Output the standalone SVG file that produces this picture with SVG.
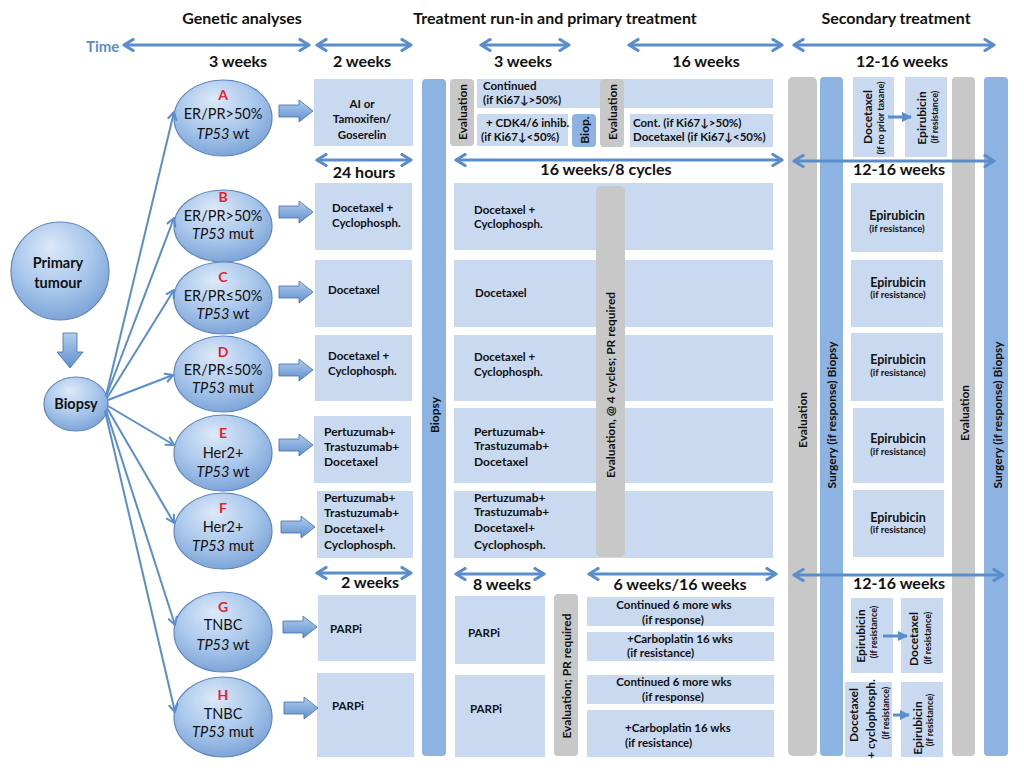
<svg xmlns="http://www.w3.org/2000/svg" width="1024" height="771" viewBox="0 0 1024 771">
<defs>
<style>
.h{font:bold 16px Lato,"Liberation Sans",sans-serif;fill:#111;text-anchor:middle}
.wk{font:bold 16px Lato,"Liberation Sans",sans-serif;fill:#111;text-anchor:middle}
.time{font:bold 15px Lato,"Liberation Sans",sans-serif;fill:#5b8fd0}
.box{fill:#c9daf0}
.bar{fill:#8db3e2}
.gray{fill:#c8c8c8}
.t{font:bold 11.5px Lato,"Liberation Sans",sans-serif;fill:#111}
.tc{font:bold 11.5px Lato,"Liberation Sans",sans-serif;fill:#111;text-anchor:middle}
.bt{font:bold 12px Lato,"Liberation Sans",sans-serif;fill:#111}
.rv{font:bold 12px Lato,"Liberation Sans",sans-serif;fill:#111;text-anchor:middle;dominant-baseline:central}
.rs{font:bold 9px Lato,"Liberation Sans",sans-serif;fill:#111;text-anchor:middle;dominant-baseline:central}
.ep{font:bold 12.5px Lato,"Liberation Sans",sans-serif;fill:#111;text-anchor:middle}
.eps{font:bold 9.5px Lato,"Liberation Sans",sans-serif;fill:#111;text-anchor:middle}
.el{fill:url(#eg);stroke:#5f86b8;stroke-width:1.2}
.et{font:14.5px Lato,"Liberation Sans",sans-serif;fill:#111;text-anchor:middle}
.lt{font:bold 14px Lato,"Liberation Sans",sans-serif;fill:#e8202a;text-anchor:middle}
.ct{font:bold 14.5px Lato,"Liberation Sans",sans-serif;fill:#111;text-anchor:middle}
.dbl{stroke:#5a8dcb;stroke-width:3;fill:none;marker-start:url(#ah);marker-end:url(#ah)}
.cn{stroke:#5a8dcb;stroke-width:2;fill:none;marker-end:url(#ah2)}
.blk{fill:url(#bg);stroke:#3f6ea8;stroke-width:0.8}
.sm{stroke:#5a8dcb;stroke-width:3;fill:none;marker-end:url(#ah3)}
</style>
<radialGradient id="eg" cx="45%" cy="35%" r="65%" fx="40%" fy="25%">
<stop offset="0" stop-color="#dde9f8"/>
<stop offset="0.6" stop-color="#a9c7ec"/>
<stop offset="1" stop-color="#7ea5d8"/>
</radialGradient>
<linearGradient id="bg" x1="0" y1="0" x2="0" y2="1">
<stop offset="0" stop-color="#b3cdee"/>
<stop offset="1" stop-color="#5f8fcf"/>
</linearGradient>
<marker id="ah" viewBox="0 0 14 14" refX="11" refY="7" markerWidth="14" markerHeight="14" markerUnits="userSpaceOnUse" orient="auto-start-reverse">
<path d="M2,1.5 L11,7 L2,12.5" fill="none" stroke="#5a8dcb" stroke-width="3.2" stroke-linecap="round" stroke-linejoin="round"/>
</marker>
<marker id="ah2" viewBox="0 0 12 12" refX="10" refY="6" markerWidth="11" markerHeight="11" markerUnits="userSpaceOnUse" orient="auto">
<path d="M2,1.5 L10,6 L2,10.5" fill="none" stroke="#5a8dcb" stroke-width="2.2" stroke-linecap="round" stroke-linejoin="round"/>
</marker>
<marker id="ah3" viewBox="0 0 10 10" refX="9" refY="5" markerWidth="10" markerHeight="11" markerUnits="userSpaceOnUse" orient="auto">
<path d="M0,0 L10,5 L0,10 Z" fill="#5a8dcb"/>
</marker>
</defs>
<rect width="1024" height="771" fill="#fff"/>

<g id="headers">
<text class="h" x="242" y="24">Genetic analyses</text>
<text class="h" x="555" y="24">Treatment run-in and primary treatment</text>
<text class="h" x="896" y="24">Secondary treatment</text>
<text class="time" x="86" y="52">Time</text>
<text class="wk" x="238" y="67">3 weeks</text>
<text class="wk" x="362" y="67">2 weeks</text>
<text class="wk" x="523" y="67">3 weeks</text>
<text class="wk" x="706" y="67">16 weeks</text>
<text class="wk" x="902" y="67">12-16 weeks</text>
<text class="wk" x="364" y="178">24 hours</text>
<text class="wk" x="606" y="175">16 weeks/8 cycles</text>
<text class="wk" x="899" y="175">12-16 weeks</text>
<text class="wk" x="370" y="588">2 weeks</text>
<text class="wk" x="502" y="590">8 weeks</text>
<text class="wk" x="680" y="590">6 weeks/16 weeks</text>
<text class="wk" x="899" y="589">12-16 weeks</text>
</g>

<g id="primary-tumour">
<circle class="el" cx="60" cy="271" r="49"/>
<text class="ct" x="58" y="268">Primary</text>
<text class="ct" x="58" y="288">tumour</text>
</g>
<g id="biopsy">
<ellipse class="el" cx="76" cy="404" rx="32" ry="27"/>
<text class="ct" x="76" y="409">Biopsy</text>
</g>

<g id="node-A">
<ellipse class="el" cx="223" cy="118" rx="49" ry="38"/>
<text class="lt" x="223" y="100">A</text>
<text class="et" x="223" y="119">ER/PR&gt;50%</text>
<text class="et" x="223" y="139"><tspan font-style="italic">TP53</tspan> wt</text>
</g>
<g id="node-B">
<ellipse class="el" cx="223" cy="226" rx="49" ry="36"/>
<text class="lt" x="223" y="202">B</text>
<text class="et" x="223" y="221">ER/PR&gt;50%</text>
<text class="et" x="223" y="239"><tspan font-style="italic">TP53</tspan> mut</text>
</g>
<g id="node-C">
<ellipse class="el" cx="223" cy="298" rx="49" ry="36"/>
<text class="lt" x="223" y="282">C</text>
<text class="et" x="223" y="301">ER/PR≤50%</text>
<text class="et" x="223" y="319"><tspan font-style="italic">TP53</tspan> wt</text>
</g>
<g id="node-D">
<ellipse class="el" cx="223" cy="374" rx="49" ry="38"/>
<text class="lt" x="223" y="357">D</text>
<text class="et" x="223" y="375">ER/PR≤50%</text>
<text class="et" x="223" y="393"><tspan font-style="italic">TP53</tspan> mut</text>
</g>
<g id="node-E">
<ellipse class="el" cx="223" cy="453" rx="49" ry="38"/>
<text class="lt" x="223" y="438">E</text>
<text class="et" x="223" y="458">Her2+</text>
<text class="et" x="223" y="477"><tspan font-style="italic">TP53</tspan> wt</text>
</g>
<g id="node-F">
<ellipse class="el" cx="223" cy="531" rx="49" ry="38"/>
<text class="lt" x="223" y="513">F</text>
<text class="et" x="223" y="532">Her2+</text>
<text class="et" x="223" y="551"><tspan font-style="italic">TP53</tspan> mut</text>
</g>
<g id="node-G">
<ellipse class="el" cx="223" cy="632" rx="49" ry="40"/>
<text class="lt" x="223" y="612">G</text>
<text class="et" x="223" y="630">TNBC</text>
<text class="et" x="223" y="650"><tspan font-style="italic">TP53</tspan> wt</text>
</g>
<g id="node-H">
<ellipse class="el" cx="223" cy="717" rx="49" ry="40"/>
<text class="lt" x="223" y="700">H</text>
<text class="et" x="223" y="719">TNBC</text>
<text class="et" x="223" y="737"><tspan font-style="italic">TP53</tspan> mut</text>
</g>

<g id="runin-boxes">
<rect class="box" x="314" y="79" width="99" height="67"/>
<text class="tc" x="362" y="108" font-size="12.5">AI or</text>
<text class="tc" x="362" y="123" font-size="12.5">Tamoxifen/</text>
<text class="tc" x="362" y="139" font-size="12.5">Goserelin</text>
<rect class="box" x="315" y="183" width="97" height="67"/>
<text class="t" x="332" y="212">Docetaxel +</text>
<text class="t" x="332" y="227">Cyclophosph.</text>
<rect class="box" x="315" y="260" width="97" height="67"/>
<text class="t" x="328" y="294">Docetaxel</text>
<rect class="box" x="315" y="335" width="97" height="66"/>
<text class="t" x="328" y="360">Docetaxel +</text>
<text class="t" x="328" y="375">Cyclophosph.</text>
<rect class="box" x="314" y="416" width="97" height="67"/>
<text class="bt" x="324" y="436">Pertuzumab+</text>
<text class="bt" x="324" y="451">Trastuzumab+</text>
<text class="bt" x="324" y="466">Docetaxel</text>
<rect class="box" x="317" y="491" width="96" height="67"/>
<text class="bt" x="324" y="502">Pertuzumab+</text>
<text class="bt" x="324" y="517">Trastuzumab+</text>
<text class="bt" x="324" y="533">Docetaxel+</text>
<text class="bt" x="324" y="549">Cyclophosph.</text>
<rect class="box" x="318" y="595" width="98" height="66"/>
<text class="t" x="330" y="633">PARPi</text>
<rect class="box" x="317" y="673" width="97" height="84"/>
<text class="t" x="332" y="710">PARPi</text>
</g>

<g id="biopsy-bar">
<rect class="bar" x="422" y="79" width="24" height="677" rx="4"/>
<text class="rv" transform="translate(434,415) rotate(-90)">Biopsy</text>
</g>

<g id="row-A-primary">
<rect class="gray" x="450" y="79" width="24" height="67" rx="4"/>
<text class="rv" transform="translate(462,112) rotate(-90)">Evaluation</text>
<rect class="box" x="477" y="79" width="296" height="29"/>
<text class="t" x="483" y="90" font-size="12">Continued</text>
<text class="t" x="483" y="104" font-size="12">(if Ki67↓&gt;50%)</text>
<rect class="box" x="477" y="114" width="91" height="32"/>
<text class="t" x="486" y="127">+ CDK4/6 inhib.</text>
<text class="t" x="481" y="141">(if Ki67↓&lt;50%)</text>
<rect class="bar" x="572" y="114" width="24" height="33" rx="4"/>
<text class="rv" transform="translate(584,130) rotate(-90)">Biop.</text>
<rect class="gray" x="600" y="79" width="24" height="68" rx="4"/>
<text class="rv" transform="translate(612,112) rotate(-90)">Evaluation</text>
<rect class="box" x="630" y="114" width="143" height="33"/>
<text class="t" x="633" y="127" font-size="12">Cont. (if Ki67↓&gt;50%)</text>
<text class="t" x="633" y="141" font-size="12">Docetaxel (if Ki67↓&lt;50%)</text>
</g>

<g id="primary-boxes">
<rect class="box" x="454" y="183" width="319" height="67"/>
<text class="t" x="474" y="214">Docetaxel +</text>
<text class="t" x="474" y="228">Cyclophosph.</text>
<rect class="box" x="454" y="260" width="319" height="67"/>
<text class="t" x="475" y="297">Docetaxel</text>
<rect class="box" x="454" y="335" width="319" height="66"/>
<text class="t" x="474" y="361">Docetaxel +</text>
<text class="t" x="474" y="376">Cyclophosph.</text>
<rect class="box" x="454" y="408" width="319" height="75"/>
<text class="bt" x="474" y="436">Pertuzumab+</text>
<text class="bt" x="474" y="450">Trastuzumab+</text>
<text class="bt" x="474" y="466">Docetaxel</text>
<rect class="box" x="454" y="491" width="319" height="67"/>
<text class="bt" x="474" y="502">Pertuzumab+</text>
<text class="bt" x="474" y="516">Trastuzumab+</text>
<text class="bt" x="474" y="532">Docetaxel+</text>
<text class="bt" x="474" y="549">Cyclophosph.</text>
<rect class="gray" x="596" y="186" width="29" height="371" rx="5"/>
<text class="rv" font-size="13" transform="translate(610,385) rotate(-90)">Evaluation, @ 4 cycles; PR required</text>
</g>

<g id="tnbc-primary">
<rect class="box" x="455" y="596" width="90" height="68"/>
<text class="t" x="468" y="637">PARPi</text>
<rect class="box" x="455" y="675" width="90" height="82"/>
<text class="t" x="470" y="713">PARPi</text>
<rect class="gray" x="554" y="594" width="24" height="162" rx="4"/>
<text class="rv" font-size="13" transform="translate(566,676) rotate(-90)">Evaluation; PR required</text>
<rect class="box" x="587" y="597" width="187" height="29"/>
<text class="tc" x="674" y="609">Continued 6 more wks</text>
<text class="tc" x="673" y="624">(if response)</text>
<rect class="box" x="587" y="632" width="187" height="29"/>
<text class="t" x="627" y="643">+Carboplatin 16 wks</text>
<text class="t" x="627" y="657">(if resistance)</text>
<rect class="box" x="587" y="675" width="187" height="29"/>
<text class="tc" x="674" y="686">Continued 6 more wks</text>
<text class="tc" x="673" y="701">(if response)</text>
<rect class="box" x="587" y="710" width="187" height="47"/>
<text class="t" x="625" y="732">+Carboplatin 16 wks</text>
<text class="t" x="625" y="747">(if resistance)</text>
</g>

<g id="secondary-bars">
<rect class="gray" x="788" y="77" width="29" height="679" rx="5"/>
<text class="rv" transform="translate(802,420) rotate(-90)">Evaluation</text>
<rect class="bar" x="820" y="77" width="23" height="679" rx="4"/>
<text class="rv" transform="translate(831,415) rotate(-90)">Surgery (if response) Biopsy</text>
<rect class="gray" x="952" y="77" width="23" height="679" rx="4"/>
<text class="rv" transform="translate(964,413) rotate(-90)">Evaluation</text>
<rect class="bar" x="984" y="77" width="24" height="679" rx="4"/>
<text class="rv" transform="translate(997,415) rotate(-90)">Surgery (if response) Biopsy</text>
</g>

<g id="secondary-A">
<rect class="box" x="853" y="77" width="41" height="80"/>
<text class="rv" font-size="12.5" transform="translate(867,117) rotate(-90)">Docetaxel</text>
<text class="rs" transform="translate(880,118) rotate(-90)">(if no prior taxane)</text>
<rect class="box" x="905" y="77" width="42" height="80"/>
<text class="rv" font-size="12.5" transform="translate(921,118) rotate(-90)">Epirubicin</text>
<text class="rs" transform="translate(934,117) rotate(-90)">(if resistance)</text>
</g>

<g id="secondary-B-F">
<rect class="box" x="851" y="183" width="92" height="69"/>
<text class="ep" x="897" y="220">Epirubicin</text>
<text class="eps" x="897" y="232">(if resistance)</text>
<rect class="box" x="851" y="260" width="92" height="67"/>
<text class="ep" x="898" y="287">Epirubicin</text>
<text class="eps" x="898" y="298">(if resistance)</text>
<rect class="box" x="851" y="333" width="92" height="68"/>
<text class="ep" x="898" y="364">Epirubicin</text>
<text class="eps" x="898" y="376">(if resistance)</text>
<rect class="box" x="853" y="408" width="91" height="75"/>
<text class="ep" x="898" y="443">Epirubicin</text>
<text class="eps" x="898" y="455">(if resistance)</text>
<rect class="box" x="853" y="490" width="91" height="67"/>
<text class="ep" x="898" y="522">Epirubicin</text>
<text class="eps" x="898" y="533">(if resistance)</text>
</g>

<g id="secondary-G">
<rect class="box" x="851" y="598" width="42" height="75"/>
<text class="rv" font-size="12.5" transform="translate(860,636) rotate(-90)">Epirubicin</text>
<text class="rs" transform="translate(873,632) rotate(-90)">(if resistance)</text>
<rect class="box" x="901" y="598" width="42" height="75"/>
<text class="rv" font-size="12.5" transform="translate(913,639) rotate(-90)">Docetaxel</text>
<text class="rs" transform="translate(927,638) rotate(-90)">(if resistance)</text>
</g>

<g id="secondary-H">
<rect class="box" x="845" y="682" width="47" height="75"/>
<text class="rv" font-size="12.5" transform="translate(853,715) rotate(-90)">Docetaxel</text>
<text class="rv" font-size="12.5" transform="translate(870,719) rotate(-90)">+ cyclophosph.</text>
<text class="rs" transform="translate(885,713) rotate(-90)">(if resistance)</text>
<rect class="box" x="901" y="682" width="42" height="75"/>
<text class="rv" font-size="12.5" transform="translate(917,728) rotate(-90)">Epirubicin</text>
<text class="rs" transform="translate(929,720) rotate(-90)">(if resistance)</text>
</g>

<g id="connectors">
<path class="dbl" d="M124,45 H309"/>
<path class="dbl" d="M317,45 H411"/>
<path class="dbl" d="M481,45 H569"/>
<path class="dbl" d="M629,45 H782"/>
<path class="dbl" d="M794,45 H994"/>
<path class="dbl" d="M317,160 H411"/>
<path class="dbl" d="M456,160 H782"/>
<path class="dbl" d="M794,161 H994"/>
<path class="dbl" d="M317,573 H411"/>
<path class="dbl" d="M456,574 H544"/>
<path class="dbl" d="M589,574 H776"/>
<path class="dbl" d="M794,575 H1003"/>
<path class="cn" d="M106,396 L174,112"/>
<path class="cn" d="M106,397 L174,218"/>
<path class="cn" d="M107,398 L174,290"/>
<path class="cn" d="M108,400 L173,375"/>
<path class="cn" d="M108,406 L174,445"/>
<path class="cn" d="M107,408 L174,523"/>
<path class="cn" d="M106,410 L175,625"/>
<path class="cn" d="M105,411 L175,712"/>
<path class="blk" d="M63,333 H77 V352 H83 L70,368 L57,352 H63 Z"/>
<path class="blk" d="M279,105 H299 V100 L313,111 L299,122 V117 H279 Z"/>
<path class="blk" d="M279,206 H299 V201 L313,212 L299,223 V218 H279 Z"/>
<path class="blk" d="M279,286 H299 V281 L313,292 L299,303 V298 H279 Z"/>
<path class="blk" d="M279,364 H299 V359 L313,370 L299,381 V376 H279 Z"/>
<path class="blk" d="M279,439 H299 V434 L313,445 L299,456 V451 H279 Z"/>
<path class="blk" d="M281,521 H301 V516 L315,527 L301,538 V533 H281 Z"/>
<path class="blk" d="M283,621 H303 V616 L317,627 L303,638 V633 H283 Z"/>
<path class="blk" d="M284,702 H304 V697 L318,708 L304,719 V714 H284 Z"/>
<path class="sm" d="M888,117 H911"/>
<path class="sm" d="M883,636 H907"/>
<path class="sm" d="M893,715 H909"/>
</g>
</svg>
